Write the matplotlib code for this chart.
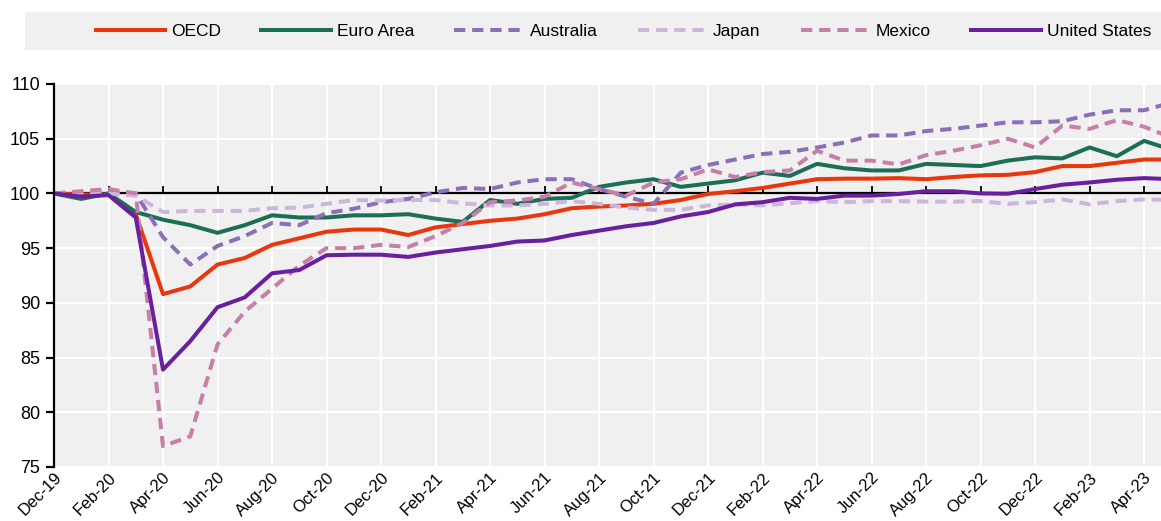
import numpy as np
import matplotlib
matplotlib.use("Agg")
import matplotlib.pyplot as plt
from matplotlib.patches import Rectangle

plt.rcParams['font.family'] = ['Liberation Sans', 'DejaVu Sans']

# Dec-19 .. May-23, monthly index (Dec-19 = 100)
tick_labels = ['Dec-19', 'Feb-20', 'Apr-20', 'Jun-20', 'Aug-20', 'Oct-20', 'Dec-20',
               'Feb-21', 'Apr-21', 'Jun-21', 'Aug-21', 'Oct-21', 'Dec-21',
               'Feb-22', 'Apr-22', 'Jun-22', 'Aug-22', 'Oct-22', 'Dec-22',
               'Feb-23', 'Apr-23']

oecd = [100.0, 99.9, 99.9, 98.1, 90.8, 91.5, 93.5, 94.1, 95.3, 95.9, 96.5, 96.7, 96.7, 96.2,
        96.9, 97.2, 97.5, 97.7, 98.1, 98.65, 98.8, 98.9, 99.05, 99.4, 99.95, 100.2, 100.5,
        100.9, 101.3, 101.35, 101.35, 101.4, 101.3, 101.5, 101.65, 101.7, 101.95, 102.5,
        102.5, 102.8, 103.1, 103.1]
euro = [100.0, 99.5, 100.0, 98.3, 97.6, 97.1, 96.4, 97.1, 98.0, 97.8, 97.8, 98.0, 98.0, 98.1,
        97.7, 97.4, 99.4, 99.05, 99.5, 99.6, 100.6, 101.0, 101.3, 100.6, 100.9, 101.2, 101.9,
        101.6, 102.7, 102.3, 102.1, 102.1, 102.7, 102.6, 102.5, 103.0, 103.3, 103.2, 104.2,
        103.4, 104.8, 104.0]
australia = [100.0, 100.1, 100.1, 100.0, 96.0, 93.5, 95.2, 96.1, 97.3, 97.1, 98.2, 98.6, 99.2,
             99.5, 100.1, 100.5, 100.4, 101.0, 101.3, 101.3, 100.4, 99.7, 99.05, 101.9, 102.6,
             103.1, 103.6, 103.8, 104.2, 104.65, 105.3, 105.3, 105.7, 105.9, 106.2, 106.5,
             106.5, 106.6, 107.2, 107.6, 107.6, 108.3]
japan = [100.0, 100.1, 100.0, 99.8, 98.3, 98.4, 98.4, 98.4, 98.65, 98.7, 99.05, 99.4, 99.35,
         99.4, 99.4, 99.1, 98.9, 98.9, 99.05, 99.3, 99.05, 98.7, 98.5, 98.5, 98.9, 99.0, 98.9,
         99.1, 99.3, 99.2, 99.3, 99.3, 99.25, 99.25, 99.3, 99.05, 99.2, 99.45, 99.0, 99.3,
         99.45, 99.4]
mexico = [100.0, 100.2, 100.4, 100.0, 76.9, 77.8, 86.2, 89.2, 91.3, 93.4, 95.0, 95.0, 95.3,
          95.1, 96.1, 97.3, 99.2, 99.35, 99.7, 101.0, 100.4, 99.8, 101.0, 101.3, 102.2, 101.5,
          101.95, 102.1, 103.9, 103.0, 103.0, 102.65, 103.5, 103.9, 104.4, 105.0, 104.2,
          106.2, 105.9, 106.7, 106.1, 105.1]
us = [100.0, 99.7, 99.85, 97.8, 83.9, 86.5, 89.6, 90.5, 92.7, 93.0, 94.35, 94.4, 94.4, 94.2,
      94.6, 94.9, 95.2, 95.6, 95.7, 96.2, 96.6, 97.0, 97.3, 97.9, 98.3, 99.0, 99.2, 99.6, 99.5,
      99.8, 99.8, 99.95, 100.2, 100.2, 100.0, 99.97, 100.4, 100.8, 101.0, 101.25, 101.4, 101.3]

series = [
    ('OECD', oecd, '#e8370c', 'solid'),
    ('Euro Area', euro, '#1c6e56', 'solid'),
    ('Australia', australia, '#8b6fb8', 'dashed'),
    ('Japan', japan, '#ccb6dc', 'dashed'),
    ('Mexico', mexico, '#c77fa8', 'dashed'),
    ('United States', us, '#6a1f9e', 'solid'),
]

x = np.arange(len(oecd))

fig = plt.figure(figsize=(11.61, 5.21), dpi=100)
ax = fig.add_axes([54 / 1161, 1 - 467 / 521, 1 - 54 / 1161, (467 - 84) / 521])
ax.set_facecolor('#f0f0f0')

for name, vals, col, ls in series:
    if ls == 'dashed':
        ax.plot(x, vals, color=col, lw=2.9, dashes=(2.8, 1.7), label=name)
    else:
        ax.plot(x, vals, color=col, lw=2.9, label=name)

ax.axhline(100, color='black', lw=1.6, zorder=1.5)

ax.set_xlim(0, 40.62)
ax.set_ylim(75, 110)
ax.set_yticks(np.arange(75, 111, 5))
ax.set_xticks(np.arange(0, 2 * len(tick_labels), 2))
ax.set_xticklabels(tick_labels)

ax.grid(True, color='white', lw=1.5)
ax.set_axisbelow(True)

# x-axis line sits at 100, ticks pointing up, labels stay at bottom
ax.spines['right'].set_visible(False)
ax.spines['bottom'].set_visible(False)
ax.spines['top'].set_position(('data', 100))
ax.spines['top'].set_visible(False)
ax.spines['left'].set_linewidth(1.6)
ax.tick_params(axis='x', which='both', top=True, bottom=False, labeltop=False,
               labelbottom=True, direction='out', length=5, width=1.3, labelsize=12, pad=-3)
ax.tick_params(axis='y', direction='out', length=6, width=1.6, labelsize=13, pad=4)
for lab in ax.get_xticklabels():
    lab.set_rotation(45)
    lab.set_ha('right')
    lab.set_rotation_mode('anchor')

# legend band
fig.patches.append(Rectangle((25 / 1161, 1 - 50 / 521), 1 - 25 / 1161, 38 / 521,
                             transform=fig.transFigure, facecolor='#f0f0f0',
                             edgecolor='none', zorder=0))
fig.legend(loc='center left', bbox_to_anchor=(96 / 1161, 1 - 31 / 521), ncol=6,
           frameon=False, fontsize=12.5, handlelength=4.0, handletextpad=0.35,
           columnspacing=2.3, borderpad=0, borderaxespad=0)

fig.savefig('out.png', dpi=100)
